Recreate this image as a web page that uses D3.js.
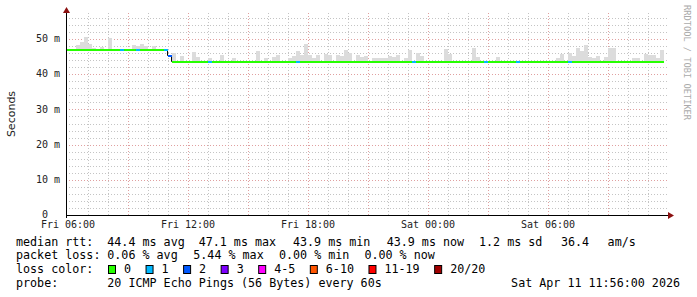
<!DOCTYPE html>
<html>
<head>
<meta charset="utf-8">
<title>smokeping median rtt</title>
<script src="https://cdn.jsdelivr.net/npm/d3@7"></script>
<style>
  body { margin: 0; background: #fff; }
  text { font-family: "DejaVu Sans Mono", monospace; }
</style>
</head>
<body>
<div class="viz"></div>
<script>
// ---- data ----
var slotMinutes = 12;                              // one consolidated rrd step
var slotZero = new Date(2026, 3, 10, 6, 0);        // slot 0 = Fri 06:00
var timeStart = new Date(2026, 3, 10, 5, 56);
var timeEnd = new Date(2026, 3, 11, 11, 56);
var firstSlot = -1, lastSlot = 148;

// median rtt (ms), a step that holds until the next entry
var medianSlot = [-1, 25, 26];
var medianValue = [47.1, 45.4, 43.9];

// slots that lost pings (everything else lost 0 of 20)
var lossSlot = [13, 17, 24, 25, 35, 57, 86, 104, 112, 125];
var lossCount = [1, 1, 1, 2, 1, 1, 1, 1, 1, 1];

// smoke: top of the ping spread (ms) per slot
var smokeSlot = [2, 3, 4, 5, 6, 8, 10, 16, 17, 18, 19, 21,
  26, 28, 31, 32, 35, 38, 41, 47, 49, 51, 52, 55, 56, 57, 58, 59, 60, 61, 62,
  64, 65, 67, 68, 69, 70, 72, 73, 74, 76, 77, 78, 79, 80, 81, 82, 84, 85, 87, 88,
  94, 95, 101, 102, 107, 122, 123, 125, 126, 127, 128, 129, 130, 131, 132,
  134, 135, 136, 141, 142, 144, 145, 146, 147, 148];
var smokeTop = [48.3, 49.1, 50.6, 48.6, 47.5, 47.7, 50.3, 48.3, 48.0, 48.6, 48.0, 48.0,
  46.0, 45.2, 46.3, 45.0, 44.6, 45.4, 44.6, 46.6, 44.6, 45.0, 45.4, 44.6, 45.2, 46.6, 45.4, 48.6, 45.4, 44.6, 45.4,
  45.7, 45.4, 45.4, 45.2, 46.9, 46.0, 45.4, 45.0, 45.2, 44.6, 44.6, 44.6, 44.6, 45.2, 45.0, 45.4, 44.6, 46.9, 46.0, 45.2,
  47.2, 45.7, 47.4, 45.0, 45.0, 44.6, 45.7, 46.0, 45.2, 47.4, 46.6, 48.3, 45.0, 44.6, 45.2,
  45.0, 47.4, 47.4, 44.6, 44.6, 45.7, 45.4, 45.4, 44.6, 46.9];

var yTicks = [0, 10, 20, 30, 40, 50];
var xTicks = [new Date(2026, 3, 10, 6), new Date(2026, 3, 10, 12), new Date(2026, 3, 10, 18),
              new Date(2026, 3, 11, 0), new Date(2026, 3, 11, 6)];

var lossLabels = ["0", "1", "2", "3", "4-5", "6-10", "11-19", "20/20"];
var lossColors = ["#26ff00", "#00b8ff", "#0059ff", "#7e00ff", "#ff00ff", "#ff5500", "#ff0000", "#a00000"];
var lossUpper = [0, 1, 2, 3, 5, 10, 19, 20];

var rttStats = ["44.4 ms avg", "47.1 ms max", "43.9 ms min", "43.9 ms now", "1.2 ms sd", "36.4", "am/s"];
var lossStats = ["0.06 % avg", "5.44 % max", "0.00 % min", "0.00 % now"];
var probeText = "20 ICMP Echo Pings (56 Bytes) every 60s";
var stampText = "Sat Apr 11 11:56:00 2026";

// ---- drawing ----
var width = 697, height = 297;
var plotLeft = 66, plotRight = 668, plotTop = 13, plotBottom = 215;

var svg = d3.select(".viz").append("svg")
    .attr("width", width)
    .attr("height", height)
    .style("display", "block");

svg.append("rect").attr("width", width).attr("height", height).attr("fill", "#fff");

var x = d3.scaleTime().domain([timeStart, timeEnd]).range([66.2, 666.2]);
var y = d3.scaleLinear().domain([0, 57.4]).range([plotBottom, plotTop]);
var px = function(v){ return Math.round(v) + 0.5; };

var slotTime = function(k){ return d3.timeMinute.offset(slotZero, k * slotMinutes); };
var medianAt = function(k){
  var v = medianValue[0];
  medianSlot.forEach(function(s, i){ if (k >= s) v = medianValue[i]; });
  return v;
};
var lossBucket = function(n){ return lossUpper.findIndex(function(u){ return n <= u; }); };

var slots = d3.range(firstSlot, lastSlot + 1).map(function(k){
  var li = lossSlot.indexOf(k);
  return { k: k, t0: slotTime(k), t1: slotTime(k + 1), median: medianAt(k),
           loss: li < 0 ? 0 : lossCount[li] };
});

svg.append("clipPath").attr("id", "plot-clip")
  .append("rect").attr("x", plotLeft).attr("y", 0).attr("width", plotRight - plotLeft).attr("height", plotBottom);

// grid
var grid = svg.append("g");
var minorY = d3.range(2, 57.4, 2).filter(function(v){ return v % 10 !== 0; });
grid.selectAll(".hmin").data(minorY).enter().append("line")
  .attr("x1", plotLeft).attr("x2", plotRight)
  .attr("y1", function(d){ return px(y(d)); }).attr("y2", function(d){ return px(y(d)); })
  .attr("stroke", "#c4c4c4").attr("stroke-dasharray", "1,2");
var hours = d3.timeHour.range(d3.timeHour.offset(timeStart, 1), timeEnd);
grid.selectAll(".vmin").data(hours.filter(function(h){ return h.getHours() % 3 !== 0; })).enter().append("line")
  .attr("x1", function(d){ return px(x(d)); }).attr("x2", function(d){ return px(x(d)); })
  .attr("y1", plotTop).attr("y2", plotBottom)
  .attr("stroke", "#c4c4c4").attr("stroke-dasharray", "1,2");
grid.selectAll(".hmaj").data(yTicks.slice(1)).enter().append("line")
  .attr("x1", plotLeft).attr("x2", plotRight)
  .attr("y1", function(d){ return px(y(d)); }).attr("y2", function(d){ return px(y(d)); })
  .attr("stroke", "#e0a0a0").attr("stroke-dasharray", "1,2");
grid.selectAll(".vmaj").data(hours.filter(function(h){ return h.getHours() % 3 === 0; })).enter().append("line")
  .attr("x1", function(d){ return px(x(d)); }).attr("x2", function(d){ return px(x(d)); })
  .attr("y1", plotTop).attr("y2", plotBottom)
  .attr("stroke", "#e0a0a0").attr("stroke-dasharray", "1,2");

var plot = svg.append("g").attr("clip-path", "url(#plot-clip)");

// smoke
plot.selectAll(".smoke").data(smokeSlot).enter().append("rect")
  .attr("x", function(d){ return x(slotTime(d)); })
  .attr("width", function(d){ return x(slotTime(d + 1)) - x(slotTime(d)); })
  .attr("y", function(d, i){ return y(smokeTop[i]); })
  .attr("height", function(d, i){ return y(medianAt(d)) - y(smokeTop[i]); })
  .attr("fill", "#dcdcdc")
  .attr("shape-rendering", "crispEdges");

// median: dark step line for the risers, loss coloured treads on top
var step = d3.line()
  .x(function(d){ return x(d.t); })
  .y(function(d){ return px(y(d.v)); })
  .curve(d3.curveStepAfter);
var stepPts = slots.map(function(s){ return { t: s.t0, v: s.median }; });
stepPts.push({ t: slots[slots.length - 1].t1, v: slots[slots.length - 1].median });
plot.append("path").attr("d", step(stepPts))
  .attr("fill", "none").attr("stroke", "#000").attr("stroke-width", 1);

plot.selectAll(".med").data(slots).enter().append("rect")
  .attr("x", function(d){ return x(d.t0); })
  .attr("width", function(d){ return x(d.t1) - x(d.t0); })
  .attr("y", function(d){ return Math.round(y(d.median)) - 0.5; })
  .attr("height", 2)
  .attr("fill", function(d){ return lossColors[lossBucket(d.loss)]; })
  .attr("shape-rendering", "crispEdges");

// axes
var ax = svg.append("g");
ax.append("line").attr("x1", plotLeft).attr("x2", 670).attr("y1", plotBottom + 0.5).attr("y2", plotBottom + 0.5)
  .attr("stroke", "#000");
ax.append("line").attr("x1", plotLeft + 0.5).attr("x2", plotLeft + 0.5).attr("y1", plotBottom + 3).attr("y2", 11)
  .attr("stroke", "#000");
ax.append("path").attr("d", "M668,212 L674,215.5 L668,219 Z").attr("fill", "#8b1010");
ax.append("path").attr("d", "M63,13 L66.5,7 L70,13 Z").attr("fill", "#8b1010");

var yAxis = d3.axisLeft(y).tickValues(yTicks).tickSize(0).tickPadding(6)
  .tickFormat(function(d){ return d === 0 ? "0\u00a0\u00a0" : d + " m"; });
svg.append("g").attr("transform", "translate(" + plotLeft + ",-0.5)").call(yAxis)
  .call(function(g){ g.select(".domain").remove(); })
  .selectAll("text").attr("font-size", "10px").attr("font-family", "DejaVu Sans Mono").attr("fill", "#222");

var xAxis = d3.axisBottom(x).tickValues(xTicks).tickSize(0).tickPadding(6)
  .tickFormat(d3.timeFormat("%a %H:%M"));
svg.append("g").attr("transform", "translate(0," + plotBottom + ")").call(xAxis)
  .call(function(g){ g.select(".domain").remove(); })
  .selectAll("text").attr("font-size", "10px").attr("font-family", "DejaVu Sans Mono").attr("fill", "#222");

svg.append("text")
  .attr("transform", "translate(15,114) rotate(-90)")
  .attr("text-anchor", "middle")
  .style("font-family", "DejaVu Sans")
  .attr("font-size", "11px").attr("fill", "#222")
  .text("Seconds");

svg.append("text")
  .attr("transform", "translate(684,5) rotate(90)")
  .attr("font-size", "8.7px").attr("fill", "#aaa")
  .text("RRDTOOL / TOBI OETIKER");

// legend
var leg = svg.append("g").attr("font-size", "11.7px").attr("fill", "#000");
var rows = [245.5, 259.3, 273, 286.7];
var col = 107.3;
leg.append("text").attr("x", 16).attr("y", rows[0]).text("median rtt:");
leg.append("text").attr("x", 16).attr("y", rows[1]).text("packet loss:");
leg.append("text").attr("x", 16).attr("y", rows[2]).text("loss color:");
leg.append("text").attr("x", 16).attr("y", rows[3]).text("probe:");

var rttX = [col, 198.7, 293, 386.7, 479, 561, 607.6];
leg.selectAll(".rtt").data(rttStats).enter().append("text")
  .attr("x", function(d, i){ return rttX[i]; }).attr("y", rows[0]).text(function(d){ return d; });
var lossX = [col, 193.3, 279, 364.4];
leg.selectAll(".ls").data(lossStats).enter().append("text")
  .attr("x", function(d, i){ return lossX[i]; }).attr("y", rows[1]).text(function(d){ return d; });

var bx = 108;
lossLabels.forEach(function(lab, i){
  leg.append("rect").attr("x", bx + 0.5).attr("y", 265.5).attr("width", 7).attr("height", 8)
    .attr("fill", lossColors[i]).attr("stroke", "#000").attr("stroke-width", 1);
  var t = leg.append("text").attr("x", bx + 16).attr("y", rows[2]).text(lab);
  bx = bx + 16 + t.node().getComputedTextLength() + 14.5;
});

leg.append("text").attr("x", col).attr("y", rows[3]).text(probeText);
leg.append("text").attr("x", 680).attr("y", rows[3]).attr("text-anchor", "end").text(stampText);
</script>
</body>
</html>
